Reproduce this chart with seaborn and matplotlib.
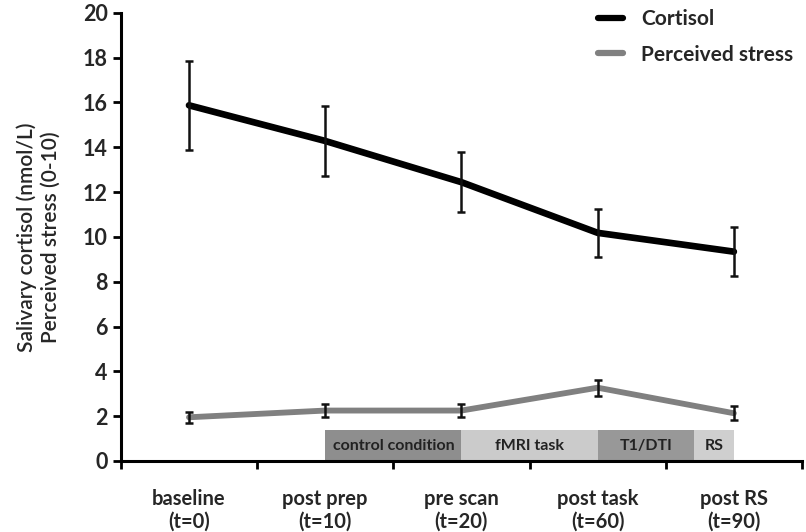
import matplotlib
matplotlib.use("Agg")
import matplotlib.pyplot as plt
import seaborn as sns
import pandas as pd
import numpy as np

# ---- data ----
timepoints = ["baseline\n(t=0)", "post prep\n(t=10)", "pre scan\n(t=20)", "post task\n(t=60)", "post RS\n(t=90)"]
cortisol_mean = [15.87, 14.28, 12.44, 10.18, 9.34]
cortisol_err = [2.0, 1.57, 1.34, 1.06, 1.08]
stress_mean = [1.95, 2.25, 2.25, 3.27, 2.13]
stress_err = [0.25, 0.3, 0.3, 0.35, 0.31]

phase_labels = ["control condition", "fMRI task", "T1/DTI", "RS"]
phase_start = [1.0, 2.0, 3.0, 3.71]
phase_end = [2.0, 3.0, 3.71, 4.0]
phase_colors = ["#8e8e8e", "#cbcbcb", "#989898", "#cfcfcf"]
phase_height = 1.38

sns.set_theme(style="ticks")
plt.rcParams['font.family'] = ['Lato', 'DejaVu Sans']

fig = plt.figure(figsize=(8.06, 5.32), dpi=100)
ax = fig.add_axes([0.150, 0.1335, 0.845, 0.8425])

x = np.arange(len(timepoints))
df = pd.DataFrame({
    "x": np.concatenate([x, x]),
    "value": cortisol_mean + stress_mean,
    "series": ["Cortisol"] * len(x) + ["Perceived stress"] * len(x),
})

# phase bars
for lab, s, e, c in zip(phase_labels, phase_start, phase_end, phase_colors):
    ax.bar(s, phase_height, width=e - s, align="edge", color=c, edgecolor="none", zorder=1)
    ax.text((s + e) / 2, phase_height / 2, lab, ha="center", va="center",
            fontsize=11.5, fontweight="bold", color="#222222", zorder=2)

sns.lineplot(data=df, x="x", y="value", hue="series",
             palette={"Cortisol": "#000000", "Perceived stress": "#808080"},
             ax=ax, zorder=3, legend=True)
for ln, lw in zip(ax.get_lines()[:2], [4.8, 4.2]):
    ln.set_linewidth(lw)
ax.errorbar(x, cortisol_mean, yerr=cortisol_err, fmt="none", ecolor="#111111",
            elinewidth=1.8, capsize=3, capthick=1.8, zorder=4)
ax.errorbar(x, stress_mean, yerr=stress_err, fmt="none", ecolor="#111111",
            elinewidth=1.8, capsize=3, capthick=1.8, zorder=4)

ax.set_xlim(-0.5, 4.5)
ax.set_ylim(0, 20)
ax.set_yticks(np.arange(0, 21, 2))
ax.set_xticks(x)
ax.set_xticklabels(timepoints, fontsize=14.5, fontweight="bold")
ax.set_xticks(np.arange(-0.5, 4.6, 1), minor=True)
ax.tick_params(axis="x", which="major", length=0, pad=20)
ax.tick_params(axis="x", which="minor", length=6, width=2, direction="out", color="black")
ax.tick_params(axis="y", length=6, width=2, direction="out", color="black", labelsize=15.5)
for lbl in ax.get_yticklabels():
    lbl.set_fontweight("bold")
ax.set_xlabel("")
ax.set_ylabel("Salivary cortisol (nmol/L)\nPerceived stress (0-10)", fontsize=15,
              fontweight="semibold", labelpad=16)

for side in ["top", "right"]:
    ax.spines[side].set_visible(False)
for side in ["left", "bottom"]:
    ax.spines[side].set_linewidth(2.2)
    ax.spines[side].set_color("black")

leg = ax.legend(loc="upper right", bbox_to_anchor=(1.015, 1.05), frameon=False,
                handlelength=1.2, fontsize=15, labelspacing=0.75, handletextpad=0.9)
for t in leg.get_texts():
    t.set_fontweight("bold")
for h in leg.get_lines():
    h.set_linewidth(4.5)

fig.savefig("out.png", dpi=100)
